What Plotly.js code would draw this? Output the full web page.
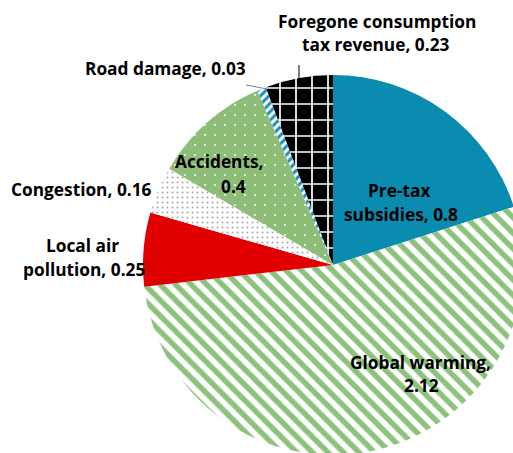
<!DOCTYPE html>
<html>
<head>
<meta charset="utf-8">
<script src="https://cdn.plot.ly/plotly-3.0.1.min.js"></script>
<style>
html,body{margin:0;padding:0;overflow:hidden;background:#fff;width:513px;height:453px;}
#chart{width:530px;height:470px;}
</style>
</head>
<body>
<div id="chart"></div>
<script>
// Data
var categories = ["Pre-tax subsidies", "Global warming", "Local air pollution", "Congestion", "Accidents", "Road damage", "Foregone consumption tax revenue"];
var values = [0.8, 2.12, 0.25, 0.16, 0.4, 0.03, 0.23];
var labelLines = [
  ["Pre-tax", "subsidies, 0.8"],
  ["Global warming,", "2.12"],
  ["Local air", "pollution, 0.25"],
  ["Congestion, 0.16"],
  ["Accidents,", "0.4"],
  ["Road damage, 0.03"],
  ["Foregone consumption", "tax revenue, 0.23"]
];

// Styles
var fillColors   = ["#0a8cb0", "#ffffff", "#e00000", "#ffffff", "#8dbd76", "#ffffff", "#000000"];
var patShapes    = ["",        "\\",      "",        ".",       ".",       "/",       "+"];
var patFg        = ["#0a8cb0", "#8dc27c", "#e00000", "#a6a6a6", "#ffffff", "#1a8fc0", "#ffffff"];
var patBg        = ["#0a8cb0", "#ffffff", "#e00000", "#ffffff", "#8dbd76", "#ffffff", "#000000"];
var patSize      = [8,         11,        8,         5,         10,        6,         16];
var patSolidity  = [0.3,       0.5,       0.3,       0.12,      0.03,      0.5,       0.2];

// Layout geometry (pixel frame of the 530x470 div)
var W = 530, H = 470, mL = 143, mR = 7, mT = 75, mB = 15;
var pw = W - mL - mR, ph = H - mT - mB;
function px(x) { return (x - mL) / pw; }
function py(y) { return (H - mB - y) / ph; }

// label line positions (pixel centres)
var labelPos = [
  [[399, 190], [401, 214]],
  [[420, 362], [421, 385]],
  [[82, 246], [84, 269]],
  [[81, 189]],
  [[219, 161], [233, 186]],
  [[165, 69]],
  [[377, 21], [376, 45]]
];

var annotations = [];
labelLines.forEach(function (lines, i) {
  lines.forEach(function (t, j) {
    annotations.push({
      text: t, showarrow: false, xref: "paper", yref: "paper",
      x: px(labelPos[i][j][0]), y: py(labelPos[i][j][1]),
      xanchor: "center", yanchor: "middle",
      font: {family: "Open Sans", size: 17.3, weight: 700, color: "#000000"}
    });
  });
});

var shapes = [
  {type: "line", xref: "paper", yref: "paper", x0: px(246), y0: py(85), x1: px(267), y1: py(89),
   line: {color: "#7f7f7f", width: 1}},
  {type: "line", xref: "paper", yref: "paper", x0: px(299), y0: py(65), x1: px(299), y1: py(80),
   line: {color: "#000000", width: 1}}
];

var trace = {
  type: "pie",
  labels: categories,
  values: values,
  sort: false,
  direction: "clockwise",
  rotation: 0,
  textinfo: "none",
  hoverinfo: "label+value",
  marker: {
    colors: fillColors,
    pattern: {shape: patShapes, fgcolor: patFg, bgcolor: patBg, size: patSize, solidity: patSolidity, fillmode: "replace"},
    line: {width: 0}
  },
  domain: {x: [0, 1], y: [0, 1]}
};

var layout = {
  width: W, height: H,
  margin: {l: mL, r: mR, t: mT, b: mB, pad: 0},
  showlegend: false,
  paper_bgcolor: "#ffffff",
  annotations: annotations,
  shapes: shapes
};

Plotly.newPlot("chart", [trace], layout, {displayModeBar: false, staticPlot: true});
</script>
</body>
</html>
